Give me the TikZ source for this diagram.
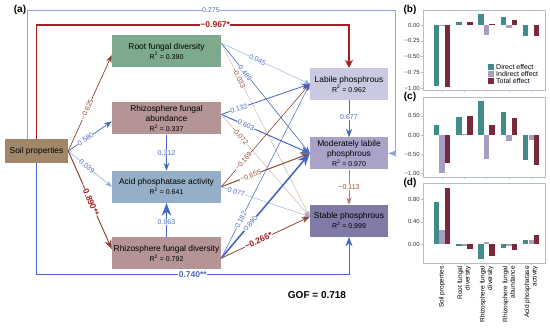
\documentclass[tikz,border=0pt]{standalone}
\usepackage{fontspec}
\setmainfont{Liberation Sans}
\usepackage{xcolor}
\usetikzlibrary{arrows.meta, positioning}

\definecolor{rootgreen}{HTML}{7DAA8C}
\definecolor{mauve}{HTML}{B49494}
\definecolor{acidblue}{HTML}{96AFC8}
\definecolor{soilbrown}{HTML}{A08769}
\definecolor{labilec}{HTML}{C9C9E2}
\definecolor{modc}{HTML}{ABA2CA}
\definecolor{stablec}{HTML}{7F7AA6}
\definecolor{posline}{HTML}{4466C4}
\definecolor{lightpos}{HTML}{8FA4DA}
\definecolor{negline}{HTML}{8A4634}
\definecolor{lightneg}{HTML}{C9AA98}
\definecolor{sigred}{HTML}{A3201E}
\definecolor{poslab}{HTML}{4A6DC0}
\definecolor{neglab}{HTML}{9A4A3A}
\definecolor{directc}{HTML}{3F8C88}
\definecolor{indirectc}{HTML}{A99CC2}
\definecolor{totalc}{HTML}{7B2838}
\definecolor{framec}{HTML}{B4BCD2}

\newcommand{\rsq}[1]{\\{\fontsize{7}{10}\selectfont R\textsuperscript{2} = #1}}

\begin{document}
\begin{tikzpicture}[
    x=1pt, y=-1pt,
    lbox/.style={rectangle, minimum width=109pt, minimum height=32pt,
        inner sep=1pt, align=center, font=\fontsize{8.4}{10}\selectfont},
    rbox/.style={lbox, minimum width=78pt},
    coef/.style={font=\fontsize{7}{8}\selectfont, fill=white, inner sep=0.4pt},
    pcoef/.style={coef, sloped, text=poslab},
    ncoef/.style={coef, sloped, text=neglab},
    scoef/.style={coef, sloped, font=\fontsize{8.5}{9}\selectfont\bfseries},
    vcoef/.style={coef, text=poslab},
    parrow/.style={draw=posline, -{Stealth[scale=1.25]}},
    narrow/.style={draw=negline, -{Stealth[scale=1.25]}},
    panel/.style={draw=framec, line width=0.6pt},
    ticklab/.style={font=\fontsize{6}{7}\selectfont, anchor=east, text=black!80, inner sep=1pt},
    xlab/.style={font=\fontsize{6.5}{7.5}\selectfont, rotate=90, anchor=east, align=right, inner sep=0pt},
    legtext/.style={font=\fontsize{7}{8}\selectfont, anchor=west, inner sep=0pt},
    paneltag/.style={font=\fontsize{10}{12}\selectfont\bfseries}
]
\useasboundingbox (0,0) rectangle (550,336);

% Panel (a): boxes
\node[paneltag] (taga) at (20,10) {(a)};
\node[lbox, fill=rootgreen] (root) at (166.5,51) {Root fungal diversity\rsq{0.390}};
\node[lbox, fill=mauve, below=35pt of root] (rfa) {Rhizosphere fungal\\abundance\rsq{0.337}};
\node[lbox, fill=acidblue, below=36pt of rfa] (acid) {Acid phosphatase activity\rsq{0.641}};
\node[lbox, fill=mauve, below=34pt of acid] (rfd) {Rhizosphere fungal diversity\rsq{0.792}};
\node[lbox, fill=soilbrown, minimum width=63pt, minimum height=24pt] (soil) at (36.5,151) {Soil properties};
\node[rbox, fill=labilec] (labile) at (349,84) {Labile phosphrous\rsq{0.962}};
\node[rbox, fill=modc, below=37pt of labile] (mod) {Moderately labile\\phosphrous\rsq{0.970}};
\node[rbox, fill=stablec, below=35pt of mod] (stable) {Stable phosphrous\rsq{0.999}};
\node[font=\fontsize{10}{12}\selectfont\bfseries] (gof) at (317,295) {GOF = 0.718};

% Outer paths
\draw[parrow, draw=lightpos, line width=0.9pt] ([xshift=-9.5pt]soil.north) |- node[pcoef, pos=0.75] {0.275} (395,10) |- (mod.east);
\draw[draw=sigred, line width=1.8pt, -{Stealth[length=8pt, width=8pt]}] (soil.north) |- node[scoef, text=sigred, pos=0.786] {−0.967*} (349,25) -- (labile.north);
\draw[parrow, line width=1pt] (soil.south) |- node[scoef, text=poslab, pos=0.75] {0.740**} (349,275) -- (stable.south);

% Soil properties to fungi
\draw[narrow, line width=0.7pt] (soil.east) -- node[ncoef, pos=0.43] {−0.625} ([yshift=-4pt]root.west);
\draw[parrow, line width=0.7pt] (soil.east) -- node[pcoef, pos=0.4] {0.580} ([yshift=-3pt]rfa.west);
\draw[parrow, draw=lightpos, line width=0.5pt] (soil.east) -- node[pcoef, pos=0.43] {0.039} (acid.west);
\draw[narrow, line width=1pt] (soil.east) -- node[scoef, text=sigred, pos=0.5] {−0.890**} ([yshift=4pt]rfd.west);

% Fungi to phosphorus fractions
\draw[parrow, draw=lightpos, line width=0.4pt] ([yshift=8pt]root.east) -- node[pcoef, pos=0.41] {0.045} (labile.west);
\draw[parrow, line width=0.6pt] ([yshift=8pt]root.east) -- node[pcoef, pos=0.27] {0.489} (mod.west);
\draw[narrow, draw=lightneg, line width=0.4pt] ([yshift=8pt]root.east) -- node[ncoef, pos=0.2] {−0.033} ([yshift=4pt]stable.west);
\draw[parrow, line width=0.8pt] ([yshift=4pt]rfa.east) -- node[pcoef, pos=0.2] {0.132} (labile.west);
\draw[parrow, line width=1pt] ([yshift=4pt]rfa.east) -- node[pcoef, pos=0.28] {0.603} (mod.west);
\draw[narrow, draw=lightneg, line width=0.4pt] ([yshift=4pt]rfa.east) -- node[ncoef, pos=0.21] {−0.072} ([yshift=4pt]stable.west);
\draw[narrow, line width=0.6pt] (acid.east) -- node[ncoef, pos=0.25] {−0.169} (labile.west);
\draw[narrow, line width=1pt] (acid.east) -- node[ncoef, pos=0.33] {−0.655} (mod.west);
\draw[parrow, draw=lightpos, line width=0.4pt] (acid.east) -- node[pcoef, pos=0.17] {0.077} ([yshift=4pt]stable.west);
\draw[parrow, line width=0.5pt] ([yshift=-5pt]rfd.east) -- node[pcoef, pos=0.22] {0.182} (labile.west);
\draw[parrow, line width=1.6pt] ([yshift=-5pt]rfd.east) -- node[pcoef, pos=0.33] {0.890} (mod.west);
\draw[narrow, line width=0.8pt] ([yshift=-5pt]rfd.east) -- node[scoef, text=sigred, pos=0.42] {−0.266*} ([yshift=4pt]stable.west);

% Vertical links
\draw[parrow, line width=0.7pt] (rfa) -- node[vcoef] {0.312} (acid);
\draw[parrow, line width=1.6pt] (rfd) -- node[vcoef, pos=0.45] {0.963} (acid);
\draw[parrow, line width=0.8pt] (labile) -- node[vcoef, pos=0.45] {0.677} (mod);
\draw[narrow, draw=negline!70, line width=0.6pt] (mod) -- node[vcoef, text=neglab] {−0.113} (stable);

% Panel (b): labile phosphrous
\node[paneltag] (tagb) at (410,10) {(b)};
\draw[panel] (423,10) rectangle (545,90);
\foreach \v/\lab [count=\n] in {0/0.00, -0.25/−0.25, -0.5/−0.50, -0.75/−0.75, -1/−1.00}
    \draw[framec] (423,{25-63*\v}) -- ++(-2,0) node[ticklab] (tb\n) {\lab};
\foreach \k in {0,...,4}
    \draw[framec] ({442+22.3*\k},90) -- ++(0,2);
\foreach \d/\i/\t [count=\k from 0] in {-0.967/-0.01/-0.977, 0.045/0/0.045, 0.182/-0.16/0.022, 0.132/-0.05/0.082, -0.169/0/-0.169} {
    \fill[directc] ({433.8+22.3*\k},25) rectangle ++(5.4,{-63*(\d)});
    \fill[indirectc] ({439.3+22.3*\k},25) rectangle ++(5.4,{-63*(\i)});
    \fill[totalc] ({444.8+22.3*\k},25) rectangle ++(5.4,{-63*(\t)});
}
\foreach \c/\lab [count=\n from 0] in {directc/Direct effect, indirectc/Indirect effect, totalc/Total effect} {
    \fill[\c] (488,{64+7*\n}) rectangle ++(6,6);
    \node[legtext] (leg\n) at (496,{67+7*\n}) {\lab};
}

% Panel (c): moderately labile phosphrous
\node[paneltag] (tagc) at (410,97) {(c)};
\draw[panel] (423,97) rectangle (545,177);
\foreach \v/\lab [count=\n] in {0.5/0.50, 0/0.00, -0.5/−0.50, -1/−1.00}
    \draw[framec] (423,{135-38.5*\v}) -- ++(-2,0) node[ticklab] (tc\n) {\lab};
\foreach \k in {0,...,4}
    \draw[framec] ({442+22.3*\k},177) -- ++(0,2);
\foreach \d/\i/\t [count=\k from 0] in {0.27/-0.99/-0.72, 0.46/0.03/0.49, 0.89/-0.63/0.26, 0.60/-0.16/0.44, -0.655/-0.12/-0.78} {
    \fill[directc] ({433.8+22.3*\k},135) rectangle ++(5.4,{-38.5*(\d)});
    \fill[indirectc] ({439.3+22.3*\k},135) rectangle ++(5.4,{-38.5*(\i)});
    \fill[totalc] ({444.8+22.3*\k},135) rectangle ++(5.4,{-38.5*(\t)});
}

% Panel (d): stable phosphrous
\node[paneltag] (tagd) at (410,183) {(d)};
\draw[panel] (423,183) rectangle (545,263);
\foreach \v/\lab [count=\n] in {0.8/0.80, 0.4/0.40, 0/0.00}
    \draw[framec] (423,{244-55.5*\v}) -- ++(-2,0) node[ticklab] (td\n) {\lab};
\foreach \k in {0,...,4}
    \draw[framec] ({442+22.3*\k},263) -- ++(0,2);
\foreach \d/\i/\t [count=\k from 0] in {0.76/0.25/1.01, -0.03/-0.04/-0.09, -0.27/0.04/-0.22, -0.07/-0.03/-0.10, 0.077/0.08/0.16} {
    \fill[directc] ({433.8+22.3*\k},244) rectangle ++(5.4,{-55.5*(\d)});
    \fill[indirectc] ({439.3+22.3*\k},244) rectangle ++(5.4,{-55.5*(\i)});
    \fill[totalc] ({444.8+22.3*\k},244) rectangle ++(5.4,{-55.5*(\t)});
}

% Predictor labels
\node[xlab] (xl0) at (442,266) {Soil properties};
\node[xlab] (xl1) at (464.3,266) {Root fungal\\diversity};
\node[xlab] (xl2) at (486.6,266) {Rhizosphere fungal\\diversity};
\node[xlab] (xl3) at (508.9,266) {Rhizosphere fungal\\abundance};
\node[xlab] (xl4) at (531.2,266) {Acid phosphatase\\activity};

\end{tikzpicture}
\end{document}
